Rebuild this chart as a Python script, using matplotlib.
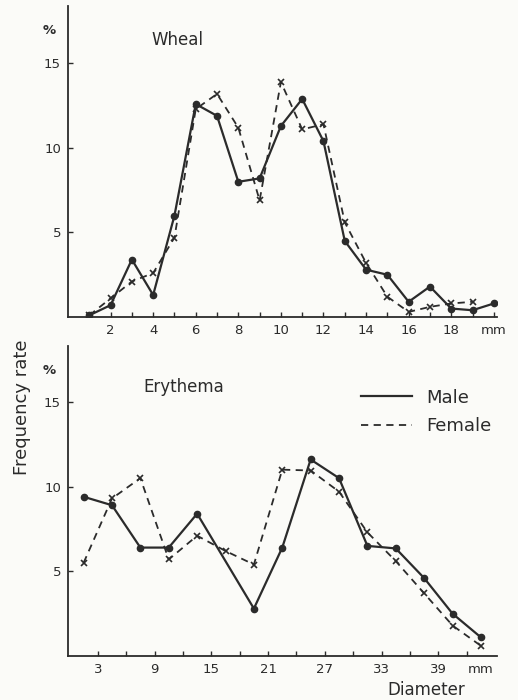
import matplotlib
matplotlib.use('Agg')
import matplotlib.pyplot as plt
from matplotlib.lines import Line2D

# Datos: Wheal (roncha), diametro 1..20 mm
wheal_x_male = [1, 2, 3, 4, 5, 6, 7, 8, 9, 10, 11, 12, 13, 14, 15, 16, 17, 18, 19, 20]
wheal_male = [0.1, 0.7, 3.4, 1.3, 6.0, 12.6, 11.9, 8.0, 8.2, 11.3, 12.9, 10.4,
              4.5, 2.8, 2.5, 0.9, 1.8, 0.5, 0.4, 0.8]
wheal_x_female = [1, 2, 3, 4, 5, 6, 7, 8, 9, 10, 11, 12, 13, 14, 15, 16, 17, 18, 19]
wheal_female = [0.1, 1.1, 2.1, 2.6, 4.7, 12.3, 13.2, 11.2, 6.9, 13.9, 11.1, 11.4,
                5.6, 3.2, 1.2, 0.3, 0.6, 0.8, 0.9]

# Datos: Erythema (eritema), marcas de clase cada 3 mm
ery_x_male = [1.5, 4.5, 7.5, 10.5, 13.5, 19.5, 22.5, 25.5, 28.5, 31.5, 34.5, 37.5, 40.5, 43.5]
ery_male = [9.4, 8.9, 6.4, 6.4, 8.4, 2.8, 6.4, 11.6, 10.5, 6.5, 6.35, 4.6, 2.5, 1.1]
ery_x_female = [1.5, 4.5, 7.5, 10.5, 13.5, 16.5, 19.5, 22.5, 25.5, 28.5, 31.5, 34.5, 37.5, 40.5, 43.5]
ery_female = [5.5, 9.3, 10.5, 5.7, 7.1, 6.2, 5.4, 11.0, 10.95, 9.7, 7.3, 5.6, 3.7, 1.8, 0.6]

# Etiquetas de ejes
wheal_ticks = [1, 2, 3, 4, 5, 6, 7, 8, 9, 10, 11, 12, 13, 14, 15, 16, 17, 18, 19, 20]
wheal_labels = ['', '2', '', '4', '', '6', '', '8', '', '10', '', '12', '', '14', '', '16',
                '', '18', '', 'mm']
ery_ticks = [3, 6, 9, 12, 15, 18, 21, 24, 27, 30, 33, 36, 39, 42, 43.5]
ery_labels = ['3', '', '9', '', '15', '', '21', '', '27', '', '33', '', '39', '', 'mm']
y_ticks = [5, 10, 15]

ink = '#2b2b2b'
bg = '#fbfbf8'

fig = plt.figure(figsize=(5.18, 7.0), dpi=100, facecolor=bg)
ax1 = fig.add_axes([68 / 518, 1 - 317 / 700, 429 / 518, 311 / 700])
ax2 = fig.add_axes([68 / 518, 1 - 656 / 700, 429 / 518, 310 / 700])


def estilo(ax, xlim, ylim, ticks, labels, ocultar_ultima):
    ax.set_facecolor(bg)
    ax.spines['top'].set_visible(False)
    ax.spines['right'].set_visible(False)
    ax.spines['left'].set_color(ink)
    ax.spines['bottom'].set_color(ink)
    ax.spines['left'].set_linewidth(1.3)
    ax.spines['bottom'].set_linewidth(1.3)
    ax.set_xlim(*xlim)
    ax.set_ylim(*ylim)
    ax.set_xticks(ticks)
    ax.set_xticklabels(labels)
    ax.set_yticks(y_ticks)
    ax.tick_params(direction='in', length=3.5, width=1.0, color=ink,
                   labelcolor=ink, labelsize=9.5, pad=5)
    if ocultar_ultima:
        # sin marca en la posicion del texto "mm"
        ax.get_xticklines()[-2].set_visible(False)
        ax.get_xticklines()[-1].set_visible(False)
    ax.text(-0.045, 0.92, '%', transform=ax.transAxes, ha='center', va='center',
            fontsize=9.5, color=ink, fontweight='bold')


estilo(ax1, (0, 20.15), (0, 18.4), wheal_ticks, wheal_labels, False)
estilo(ax2, (-0.15, 45.2), (0, 18.3), ery_ticks, ery_labels, True)

ax1.plot(wheal_x_male, wheal_male, '-', color=ink, lw=1.6, marker='o', ms=4.5)
ax1.plot(wheal_x_female, wheal_female, '--', color=ink, lw=1.3, marker='x', ms=5,
         mew=1.2, dashes=(4, 3))
ax2.plot(ery_x_male, ery_male, '-', color=ink, lw=1.6, marker='o', ms=4.5)
ax2.plot(ery_x_female, ery_female, '--', color=ink, lw=1.3, marker='x', ms=5,
         mew=1.2, dashes=(4, 3))

ax1.text(0.254, 0.89, 'Wheal', transform=ax1.transAxes, ha='center', va='center',
         fontsize=12, color=ink)
ax2.text(0.27, 0.868, 'Erythema', transform=ax2.transAxes, ha='center', va='center',
         fontsize=12, color=ink)

handles = [Line2D([], [], color=ink, lw=1.6),
           Line2D([], [], color=ink, lw=1.3, linestyle='--', dashes=(4, 3))]
ax2.legend(handles, ['Male', 'Female'], loc='upper left', bbox_to_anchor=(0.645, 0.915),
           frameon=False, fontsize=13, handlelength=2.8, handletextpad=0.8,
           labelcolor=ink, labelspacing=0.6)

fig.text(22 / 518, 1 - 407 / 700, 'Frequency rate', rotation=90, ha='center',
         va='center', fontsize=13, color=ink)
fig.text(426 / 518, 1 - 690 / 700, 'Diameter', ha='center', va='center',
         fontsize=12, color=ink)

fig.savefig('out.png', dpi=100, facecolor=bg)
